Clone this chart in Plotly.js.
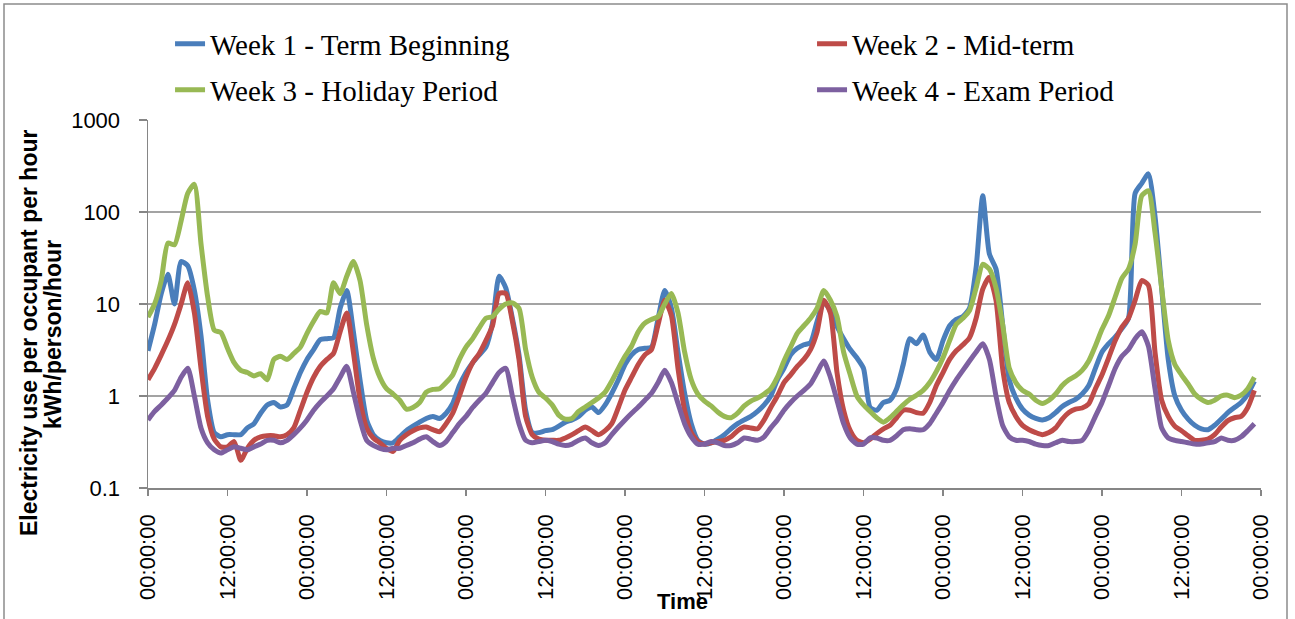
<!DOCTYPE html>
<html>
<head>
<meta charset="utf-8">
<script src="https://cdn.plot.ly/plotly-3.0.1.min.js"></script>
<style>html,body{margin:0;padding:0;background:#fff;}#chart{width:1295px;height:619px;}</style>
</head>
<body>
<div id="chart"></div>
<script>
// Hour of week (0 = Monday 00:00:00), one reading per hour
const hours = Array.from({length: 168}, (_, i) => i);

const tickHours = [0, 12, 24, 36, 48, 60, 72, 84, 96, 108, 120, 132, 144, 156, 168];
const tickLabels = ["00:00:00","12:00:00","00:00:00","12:00:00","00:00:00","12:00:00","00:00:00","12:00:00",
                    "00:00:00","12:00:00","00:00:00","12:00:00","00:00:00","12:00:00","00:00:00"];

const yTickVals = [0.1, 1, 10, 100, 1000];
const yTickText = ["0.1", "1", "10", "100", "1000"];

const yTitleLines = ["Electricity use per occupant per hour", "kWh/person/hour"];
const xTitle = "Time";

const seriesNames = ["Week 1 - Term Beginning", "Week 2 - Mid-term", "Week 3 - Holiday Period", "Week 4 - Exam Period"];

const week1 = [
 3.1, 6, 13, 21, 10, 29, 26, 14, 4.5, 0.9, 0.4, 0.36, 0.38, 0.38, 0.38, 0.45, 0.5, 0.65, 0.8, 0.85, 0.76, 0.8, 1.2, 1.8,
 2.5, 3.2, 4.1, 4.2, 4.3, 9, 14, 5, 1.5, 0.55, 0.38, 0.33, 0.31, 0.31, 0.36, 0.42, 0.47, 0.52, 0.57, 0.6, 0.57, 0.65, 0.83, 1.3,
 1.8, 2.3, 2.8, 3.4, 6.2, 20, 15, 7, 2.8, 0.7, 0.4, 0.4, 0.42, 0.43, 0.47, 0.52, 0.55, 0.6, 0.7, 0.76, 0.66, 0.8, 1.07, 1.5,
 2.2, 2.8, 3.2, 3.3, 3.4, 7, 14, 9, 3, 1.07, 0.5, 0.33, 0.3, 0.31, 0.34, 0.38, 0.44, 0.5, 0.55, 0.6, 0.68, 0.8, 1.0, 1.5,
 2.0, 2.8, 3.3, 3.6, 3.8, 6.5, 10.5, 8.5, 5.7, 4.2, 3.2, 2.6, 2.0, 0.75, 0.7, 0.85, 0.9, 1.2, 2.2, 4.2, 3.7, 4.6, 3, 2.5,
 4, 5.8, 6.8, 7.3, 9, 25, 150, 35, 24, 6, 1.5, 0.95, 0.72, 0.62, 0.57, 0.55, 0.58, 0.66, 0.77, 0.85, 0.92, 1.05, 1.3, 2.0,
 3.0, 3.7, 4.4, 5.4, 7, 160, 205, 260, 90, 15, 2.5, 1.0, 0.7, 0.56, 0.48, 0.44, 0.43, 0.48, 0.56, 0.66, 0.75, 0.85, 1.05, 1.45
];

const week2 = [
 1.5, 2.0, 2.8, 4, 6, 10, 17, 8, 2, 0.6, 0.34, 0.28, 0.28, 0.32, 0.2, 0.27, 0.33, 0.36, 0.37, 0.37, 0.36, 0.38, 0.45, 0.7,
 1.1, 1.6, 2.1, 2.5, 2.9, 5, 8, 3, 0.9, 0.45, 0.35, 0.31, 0.27, 0.25, 0.33, 0.38, 0.42, 0.45, 0.46, 0.43, 0.41, 0.5, 0.65, 1.0,
 1.6, 2.3, 2.9, 4, 5.8, 13, 13, 6.5, 2.5, 0.6, 0.38, 0.34, 0.33, 0.33, 0.33, 0.35, 0.38, 0.42, 0.46, 0.42, 0.38, 0.42, 0.5, 0.75,
 1.16, 1.6, 2.2, 2.8, 3.2, 6, 11, 7.5, 2, 0.7, 0.4, 0.32, 0.3, 0.31, 0.32, 0.33, 0.36, 0.42, 0.46, 0.45, 0.44, 0.55, 0.75, 1.0,
 1.4, 1.7, 2.1, 2.5, 3.2, 5, 11, 8, 1.8, 0.7, 0.42, 0.33, 0.31, 0.34, 0.39, 0.44, 0.48, 0.58, 0.7, 0.7, 0.66, 0.65, 0.85, 1.3,
 1.8, 2.5, 3.1, 3.6, 4.3, 7, 14.5, 19.5, 11, 2.0, 0.85, 0.6, 0.48, 0.43, 0.4, 0.38, 0.4, 0.45, 0.56, 0.66, 0.72, 0.74, 0.82, 1.2,
 1.7, 2.6, 4, 5.6, 7, 11, 18, 16, 3, 0.9, 0.6, 0.47, 0.42, 0.37, 0.33, 0.33, 0.34, 0.38, 0.46, 0.54, 0.58, 0.6, 0.75, 1.15
];

const week3 = [
 7.2, 10, 18, 46, 44, 80, 160, 200, 45, 12, 5.2, 4.9, 3.3, 2.3, 1.9, 1.8, 1.65, 1.75, 1.5, 2.5, 2.7, 2.5, 2.9, 3.4,
 4.8, 6.5, 8.3, 8, 17, 13, 20, 29, 18, 6, 2.6, 1.6, 1.2, 1.05, 0.9, 0.72, 0.75, 0.85, 1.1, 1.18, 1.2, 1.4, 1.7, 2.5,
 3.4, 4.2, 5.5, 7, 7.3, 8.8, 10, 10.3, 9, 3.2, 1.6, 1.1, 0.95, 0.8, 0.62, 0.56, 0.57, 0.68, 0.76, 0.85, 0.95, 1.1, 1.45, 2,
 2.7, 3.5, 5, 6.2, 6.8, 7.3, 10, 13, 8, 3, 1.5, 1.05, 0.88, 0.78, 0.67, 0.6, 0.58, 0.65, 0.78, 0.88, 0.95, 1.05, 1.2, 1.6,
 2.4, 3.4, 4.8, 5.8, 7, 9, 14, 11, 7.3, 3, 1.7, 1.0, 0.8, 0.68, 0.58, 0.52, 0.58, 0.68, 0.8, 0.92, 1.02, 1.15, 1.4, 1.85,
 2.6, 4, 6, 7, 8.5, 15, 27, 24, 15, 6, 2.0, 1.4, 1.15, 1.05, 0.9, 0.83, 0.9, 1.05, 1.3, 1.5, 1.65, 1.9, 2.4, 3.5,
 5.3, 7.5, 12, 19, 24, 45, 150, 170, 60, 15, 4, 2.2, 1.7, 1.35, 1.05, 0.92, 0.85, 0.9, 1.0, 1.02, 0.96, 1.02, 1.2, 1.6
];

const week4 = [
 0.55, 0.68, 0.8, 0.95, 1.15, 1.6, 2.0, 1.0, 0.45, 0.31, 0.26, 0.24, 0.26, 0.28, 0.27, 0.26, 0.28, 0.3, 0.33, 0.33, 0.31, 0.33, 0.38, 0.45,
 0.55, 0.7, 0.85, 1.0, 1.2, 1.6, 2.1, 1.1, 0.55, 0.33, 0.29, 0.27, 0.26, 0.27, 0.27, 0.29, 0.31, 0.34, 0.36, 0.32, 0.29, 0.32, 0.4, 0.5,
 0.6, 0.75, 0.9, 1.07, 1.4, 1.8, 2.0, 1.0, 0.5, 0.33, 0.31, 0.32, 0.33, 0.32, 0.3, 0.29, 0.3, 0.33, 0.35, 0.31, 0.29, 0.31, 0.38, 0.46,
 0.55, 0.65, 0.76, 0.9, 1.07, 1.4, 1.9, 1.4, 0.83, 0.5, 0.36, 0.3, 0.3, 0.32, 0.31, 0.29, 0.29, 0.31, 0.35, 0.34, 0.33, 0.36, 0.45, 0.55,
 0.7, 0.85, 1.0, 1.15, 1.35, 1.8, 2.4, 1.6, 0.9, 0.5, 0.35, 0.3, 0.3, 0.35, 0.35, 0.33, 0.33, 0.37, 0.43, 0.44, 0.43, 0.43, 0.5, 0.65,
 0.85, 1.15, 1.5, 1.9, 2.4, 3.0, 3.7, 2.5, 1.0, 0.48, 0.36, 0.33, 0.33, 0.32, 0.3, 0.29, 0.29, 0.31, 0.33, 0.32, 0.32, 0.33, 0.42, 0.6,
 0.85, 1.3, 2.0, 2.7, 3.2, 4.2, 5.0, 3.5, 1.2, 0.45, 0.35, 0.33, 0.32, 0.31, 0.3, 0.3, 0.31, 0.32, 0.35, 0.33, 0.33, 0.36, 0.42, 0.5
];

const seriesValues = [week1, week2, week3, week4];
const seriesColors = ["#4A7EBB", "#BE4B48", "#98B954", "#7D60A0"];
const legendIds = ["legend", "legend", "legend2", "legend2"];
// first entry of each legend row gets a wide slot so the second entry starts in the right-hand column
const legendSlot = [597, 0, 597, 0];

const traces = seriesValues.map((vals, i) => {
  const t = {
    type: "scatter",
    mode: "lines",
    name: seriesNames[i],
    x: hours,
    y: vals,
    legend: legendIds[i],
    line: {color: seriesColors[i], width: 5, shape: "spline", smoothing: 0.6},
    hoverinfo: "x+y+name"
  };
  if (legendSlot[i]) t.legendwidth = legendSlot[i];
  return t;
});

const axisGrey = "#868686";
const legendCommon = {
  orientation: "h",
  xanchor: "left",
  yanchor: "middle",
  x: 0.0198,
  bgcolor: "rgba(0,0,0,0)",
  font: {family: "Liberation Serif, 'DejaVu Serif', serif", size: 29, color: "#000"},
  itemclick: false,
  itemdoubleclick: false
};

// plot area: x 148..1261 px, y 120..488 px
const px2paperX = px => (px - 148) / 1113;
const px2paperY = py => (488 - py) / 368;
const titleFont = {family: "'Liberation Sans', Arial, sans-serif", size: 23, weight: "bold", color: "#000"};

const layout = {
  width: 1295,
  height: 619,
  margin: {l: 148, r: 34, t: 120, b: 131, autoexpand: false},
  paper_bgcolor: "#ffffff",
  plot_bgcolor: "#ffffff",
  font: {family: "'Liberation Sans', Arial, sans-serif", color: "#000"},
  showlegend: true,
  legend: Object.assign({}, legendCommon, {y: px2paperY(44)}),
  legend2: Object.assign({}, legendCommon, {y: px2paperY(90)}),
  xaxis: {
    range: [0, 168],
    tickmode: "array",
    tickvals: tickHours,
    ticktext: tickLabels,
    tickangle: -90,
    ticks: "outside",
    ticklen: 6,
    tickwidth: 1.5,
    tickcolor: axisGrey,
    showline: true,
    linecolor: axisGrey,
    linewidth: 1.5,
    showgrid: false,
    zeroline: false,
    ticklabelstandoff: 10,
    tickfont: {size: 22, color: "#000"}
  },
  yaxis: {
    type: "log",
    range: [-1, 3],
    tickmode: "array",
    tickvals: yTickVals,
    ticktext: yTickText,
    ticks: "outside",
    ticklen: 8,
    tickwidth: 1.5,
    tickcolor: axisGrey,
    showline: true,
    linecolor: axisGrey,
    linewidth: 1.5,
    showgrid: true,
    gridcolor: "#a3a3a3",
    gridwidth: 1.5,
    zeroline: false,
    ticklabelstandoff: 14,
    tickfont: {size: 22, color: "#000"}
  },
  annotations: [
    {text: yTitleLines[0], xref: "paper", yref: "paper", x: px2paperX(29), y: px2paperY(333),
     xanchor: "center", yanchor: "middle", textangle: -90, showarrow: false, font: titleFont},
    {text: yTitleLines[1], xref: "paper", yref: "paper", x: px2paperX(53), y: px2paperY(335),
     xanchor: "center", yanchor: "middle", textangle: -90, showarrow: false, font: titleFont},
    {text: xTitle, xref: "paper", yref: "paper", x: px2paperX(682), y: px2paperY(601),
     xanchor: "center", yanchor: "middle", showarrow: false,
     font: Object.assign({}, titleFont, {size: 22})}
  ],
  shapes: [{
    type: "rect", xref: "paper", yref: "paper",
    x0: px2paperX(4), x1: px2paperX(1287),
    y0: px2paperY(640), y1: px2paperY(4),
    line: {color: "#8c8c8c", width: 1.5},
    fillcolor: "rgba(0,0,0,0)",
    layer: "below"
  }]
};

Plotly.newPlot("chart", traces, layout, {displayModeBar: false, staticPlot: true});
</script>
</body>
</html>
